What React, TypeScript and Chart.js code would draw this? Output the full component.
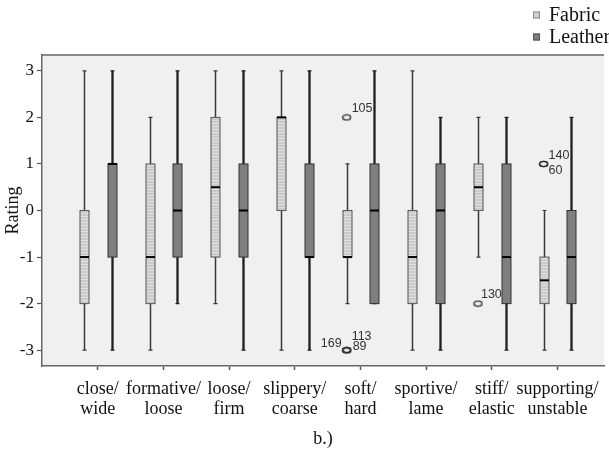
import React, { useEffect, useRef } from "react";
import { Chart, registerables } from "chart.js";
Chart.register(...registerables);

// ---------- data ----------
const categories: string[][] = [
  ["close/", "wide"],
  ["formative/", "loose"],
  ["loose/", "firm"],
  ["slippery/", "coarse"],
  ["soft/", "hard"],
  ["sportive/", "lame"],
  ["stiff/", "elastic"],
  ["supporting/", "unstable"],
];
const seriesNames = ["Fabric", "Leather"];
const yTickValues = [-3, -2, -1, 0, 1, 2, 3];

const fabricMin = [-3, -3, -2, -3, -2, -3, -1, -3];
const fabricQ1 = [-2, -2, -1, 0, -1, -2, 0, -2];
const fabricMedian = [-1, -1, 0.5, 2, -1, -1, 0.5, -1.5];
const fabricQ3 = [0, 1, 2, 2, 0, 0, 1, -1];
const fabricMax = [3, 2, 3, 3, 1, 3, 2, 0];

const leatherMin = [-3, -2, -3, -3, -2, -3, -3, -3];
const leatherQ1 = [-1, -1, -1, -1, -2, -2, -2, -2];
const leatherMedian = [1, 0, 0, -1, 0, 0, -1, -1];
const leatherQ3 = [1, 1, 1, 1, 1, 1, 1, 0];
const leatherMax = [3, 3, 3, 3, 3, 2, 2, 2];

const outlierCategory = [4, 4, 4, 4, 6, 7, 7];
const outlierSeries = [0, 0, 0, 0, 0, 0, 0];
const outlierValue = [2, -3, -3, -3, -2, 1, 1];
const outlierCase = ["105", "169", "113", "89", "130", "140", "60"];

// ---------- style ----------
const seriesOffset = [-0.21, 0.21];
const caseLabelOffset: Record<string, [number, number, CanvasTextAlign]> = {
  "105": [5, -9, "left"],
  "169": [-5, -7, "right"],
  "113": [5, -14, "left"],
  "89": [6, -4, "left"],
  "130": [3, -9, "left"],
  "140": [5, -8, "left"],
  "60": [5, 7, "left"],
};
const SERIF = "'Liberation Serif', 'Times New Roman', serif";
const SANS = "'Liberation Sans', Arial, sans-serif";

function makeStripePattern(ctx: CanvasRenderingContext2D) {
  const c = document.createElement("canvas");
  c.width = 4;
  c.height = 3;
  const g = c.getContext("2d")!;
  g.fillStyle = "#cbcbcb";
  g.fillRect(0, 0, 4, 3);
  g.fillStyle = "#dedede";
  g.fillRect(0, 0, 4, 1);
  return ctx.createPattern(c, "repeat")!;
}

function makeEllipsePoint() {
  const c = document.createElement("canvas");
  c.width = 11;
  c.height = 8;
  const g = c.getContext("2d")!;
  g.strokeStyle = "#333";
  g.lineWidth = 1.4;
  g.beginPath();
  g.ellipse(5.5, 4, 4, 2.6, 0, 0, Math.PI * 2);
  g.stroke();
  return c;
}

const boxPlugin = {
  id: "boxes",
  beforeDraw(chart: any) {
    const { ctx, chartArea } = chart;
    ctx.save();
    ctx.fillStyle = "#f0f0f0";
    ctx.fillRect(chartArea.left, chartArea.top, chartArea.right - chartArea.left, chartArea.bottom - chartArea.top);
    ctx.strokeStyle = "#666";
    ctx.lineWidth = 1.5;
    ctx.beginPath();
    ctx.moveTo(chartArea.left, chartArea.top);
    ctx.lineTo(chartArea.right, chartArea.top);
    ctx.stroke();
    ctx.restore();
  },
  beforeDatasetsDraw(chart: any) {
    const { ctx } = chart;
    const xs = chart.scales.x;
    const ys = chart.scales.y;
    const stripes = makeStripePattern(ctx);
    const sets = [
      { min: fabricMin, q1: fabricQ1, med: fabricMedian, q3: fabricQ3, max: fabricMax, fill: stripes, stroke: "#555", whisker: "#3a3a3a", ww: 1.5 },
      { min: leatherMin, q1: leatherQ1, med: leatherMedian, q3: leatherQ3, max: leatherMax, fill: "#7f7f7f", stroke: "#333", whisker: "#1e1e1e", ww: 2.3 },
    ];
    ctx.save();
    sets.forEach((s, si) => {
      categories.forEach((_, i) => {
        const x = Math.round(xs.getPixelForValue(i + seriesOffset[si])) + 0.5;
        const yMin = ys.getPixelForValue(s.min[i]);
        const yMax = ys.getPixelForValue(s.max[i]);
        const yQ1 = ys.getPixelForValue(s.q1[i]);
        const yQ3 = ys.getPixelForValue(s.q3[i]);
        const yMed = ys.getPixelForValue(s.med[i]);
        ctx.strokeStyle = s.whisker;
        ctx.lineWidth = s.ww;
        ctx.beginPath();
        ctx.moveTo(x, yMax);
        ctx.lineTo(x, yMin);
        ctx.stroke();
        ctx.lineWidth = 1.2;
        ctx.beginPath();
        ctx.moveTo(x - 2, yMax);
        ctx.lineTo(x + 2, yMax);
        ctx.moveTo(x - 2, yMin);
        ctx.lineTo(x + 2, yMin);
        ctx.stroke();
        const hw = 4.5;
        ctx.fillStyle = s.fill;
        ctx.fillRect(x - hw, yQ3, hw * 2, yQ1 - yQ3);
        ctx.strokeStyle = s.stroke;
        ctx.lineWidth = 1;
        ctx.strokeRect(x - hw, yQ3, hw * 2, yQ1 - yQ3);
        ctx.strokeStyle = "#000";
        ctx.lineWidth = 2;
        ctx.beginPath();
        ctx.moveTo(x - hw, yMed);
        ctx.lineTo(x + hw, yMed);
        ctx.stroke();
      });
    });
    ctx.restore();
  },
  afterDatasetsDraw(chart: any) {
    const { ctx } = chart;
    const xs = chart.scales.x;
    const ys = chart.scales.y;
    ctx.save();
    ctx.font = `12.5px ${SANS}`;
    ctx.fillStyle = "#333";
    ctx.textBaseline = "middle";
    outlierValue.forEach((v, i) => {
      const px = xs.getPixelForValue(outlierCategory[i] + seriesOffset[outlierSeries[i]]);
      const py = ys.getPixelForValue(v);
      const o = caseLabelOffset[outlierCase[i]] || [5, -8, "left"];
      ctx.textAlign = o[2];
      ctx.fillText(outlierCase[i], px + o[0], py + o[1]);
    });
    ctx.restore();
  },
  afterDraw(chart: any) {
    const { ctx } = chart;
    ctx.save();
    const fills = ["#cfcfcf", "#7f7f7f"];
    const strokes = ["#8a8a8a", "#555"];
    seriesNames.forEach((name, i) => {
      const cy = 15 + i * 22;
      ctx.fillStyle = fills[i];
      ctx.fillRect(533, cy - 3.5, 7, 7);
      ctx.strokeStyle = strokes[i];
      ctx.lineWidth = 1;
      ctx.strokeRect(533.5, cy - 3, 6, 6);
      ctx.fillStyle = "#111";
      ctx.font = `20px ${SERIF}`;
      ctx.textAlign = "left";
      ctx.textBaseline = "middle";
      ctx.fillText(name, 549, cy + 1);
    });
    ctx.restore();
  },
};

export default function App() {
  const ref = useRef<HTMLCanvasElement | null>(null);
  useEffect(() => {
    document.body.style.margin = "0";
    const canvas = ref.current!;
    const pointImg = makeEllipsePoint();
    const chart = new Chart(canvas, {
      type: "scatter",
      data: {
        datasets: [
          {
            label: "outliers",
            data: outlierValue.map((v, i) => ({ x: outlierCategory[i] + seriesOffset[outlierSeries[i]], y: v })),
            pointStyle: pointImg as any,
            pointRadius: 4,
            borderColor: "#333",
            backgroundColor: "rgba(0,0,0,0)",
          },
        ],
      },
      options: {
        animation: false,
        responsive: false,
        devicePixelRatio: 1,
        layout: { padding: { top: 55, left: 0, right: 0, bottom: 0 } },
        plugins: { legend: { display: false }, tooltip: { enabled: false } },
        scales: {
          x: {
            type: "linear",
            min: -0.85,
            max: 7.71,
            afterBuildTicks: (s: any) => {
              s.ticks = categories.map((_, i) => ({ value: i }));
            },
            afterFit: (s: any) => {
              s.height = 84;
            },
            ticks: {
              autoSkip: false,
              maxRotation: 0,
              minRotation: 0,
              padding: 9,
              color: "#111",
              font: { family: SERIF, size: 18, lineHeight: 1.12 },
              callback: (v: any) => categories[Math.round(Number(v))] ?? "",
            },
            grid: { drawOnChartArea: false, drawTicks: true, tickLength: 4, color: "#555", tickWidth: 1.5 },
            border: { display: true, color: "#666", width: 1.5 },
            title: { display: true, text: "b.)", color: "#111", font: { family: SERIF, size: 18 }, padding: { top: 0, bottom: 0 } },
          },
          y: {
            min: -3.34,
            max: 3.34,
            afterBuildTicks: (s: any) => {
              s.ticks = yTickValues.map((v) => ({ value: v }));
            },
            afterFit: (s: any) => {
              s.width = 42;
            },
            ticks: {
              padding: 3,
              color: "#111",
              font: { family: SERIF, size: 17 },
            },
            grid: { drawOnChartArea: false, drawTicks: true, tickLength: 5, color: "#555", tickWidth: 1.2 },
            border: { display: true, color: "#666", width: 1.5 },
            title: { display: true, text: "Rating", color: "#111", font: { family: SERIF, size: 18 }, padding: { top: 2, bottom: 0 } },
          },
        },
      },
      plugins: [boxPlugin],
    } as any);
    return () => chart.destroy();
  }, []);
  return (
    <div style={{ width: 609, height: 450, overflow: "hidden" }}>
      <canvas ref={ref} width={609} height={450} style={{ display: "block" }} />
    </div>
  );
}
